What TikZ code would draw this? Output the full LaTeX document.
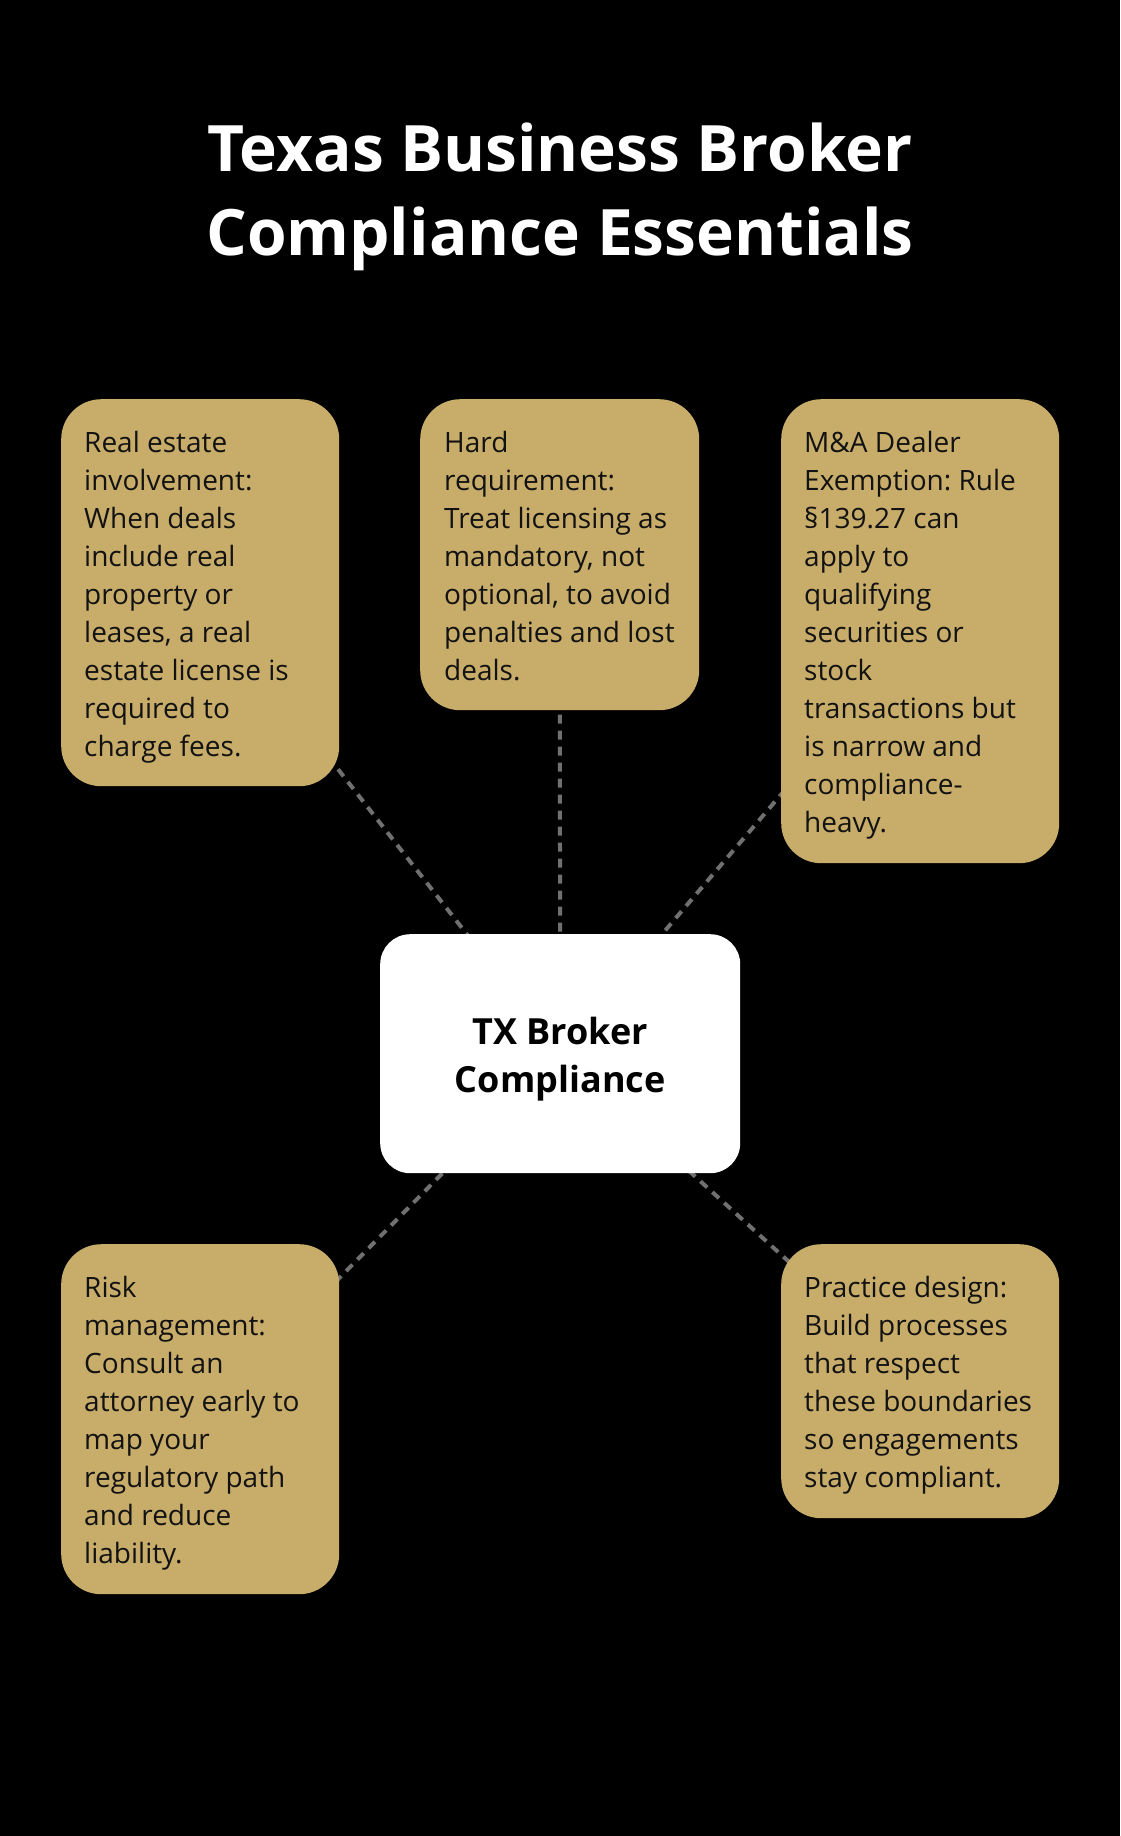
\documentclass[tikz,border=0pt]{standalone}
\usepackage{fontspec}
\setmainfont{Open Sans}
\frenchspacing
\definecolor{gold}{RGB}{200,173,106}
\definecolor{dashgray}{RGB}{112,112,112}
\pgfdeclarelayer{bg}
\pgfdeclarelayer{conn}
\pgfsetlayers{bg,conn,main}
\tikzset{
  box/.style={fill=gold, rounded corners=40pt, draw=none, anchor=north west, inner sep=0pt},
  hubbox/.style={fill=white, rounded corners=30pt, draw=none, anchor=north west, inner sep=0pt},
  txt/.style={anchor=north west, inner sep=0pt, align=left, text=black!93, font=\fontsize{28}{38}\selectfont},
  hubtxt/.style={align=center, text=black, font=\fontsize{36}{48}\selectfont\bfseries},
  titletxt/.style={align=center, text=white, font=\fontsize{64}{84}\selectfont\bfseries},
  conn/.style={draw=dashgray, line width=4pt, dash pattern=on 9pt off 7pt}
}
\begin{document}
\begin{tikzpicture}[x=1pt,y=-1pt]
\begin{pgfonlayer}{bg}
\fill[black] (0,0) rectangle (1120,1836);
\end{pgfonlayer}
\useasboundingbox (0,0) rectangle (1120,1836);

\node[titletxt] (title) at (560,197) {Texas Business Broker\\Compliance Essentials};

\node[box, minimum width=278pt, minimum height=387pt] (re) at (61,399) {};
\node[box, minimum width=279pt, minimum height=311pt] (hard) at (420,399) {};
\node[box, minimum width=278pt, minimum height=464pt] (ma) at (781,399) {};
\node[box, minimum width=278pt, minimum height=350pt] (risk) at (61,1244) {};
\node[box, minimum width=278pt, minimum height=274pt] (prac) at (781,1244) {};
\node[hubbox, minimum width=360pt, minimum height=239pt] (hub) at (380,934) {};

\node[txt] (ret) at (84,431.5) {Real estate\\involvement:\\When deals\\include real\\property or\\leases, a real\\estate license is\\required to\\charge fees.};
\node[txt] (hardt) at (444,431.5) {Hard\\requirement:\\Treat licensing as\\mandatory, not\\optional, to avoid\\penalties and lost\\deals.};
\node[txt] (mat) at (804,431.5) {M\&A Dealer\\Exemption: Rule\\§139.27 can\\apply to\\qualifying\\securities or\\stock\\transactions but\\is narrow and\\compliance-\\heavy.};
\node[txt] (riskt) at (84,1276.5) {Risk\\management:\\Consult an\\attorney early to\\map your\\regulatory path\\and reduce\\liability.};
\node[txt] (pract) at (804,1276.5) {Practice design:\\Build processes\\that respect\\these boundaries\\so engagements\\stay compliant.};
\node[hubtxt] (hubt) at ([yshift=-5pt]hub.center) {TX Broker\\Compliance};

\begin{pgfonlayer}{conn}
\draw[conn] (re.center) -- (hub.center);
\draw[conn] (hard.center) -- (hub.center);
\draw[conn] (ma.center) -- (hub.center);
\draw[conn] (risk.center) -- (hub.center);
\draw[conn] (prac.center) -- (hub.center);
\end{pgfonlayer}
\end{tikzpicture}
\end{document}
